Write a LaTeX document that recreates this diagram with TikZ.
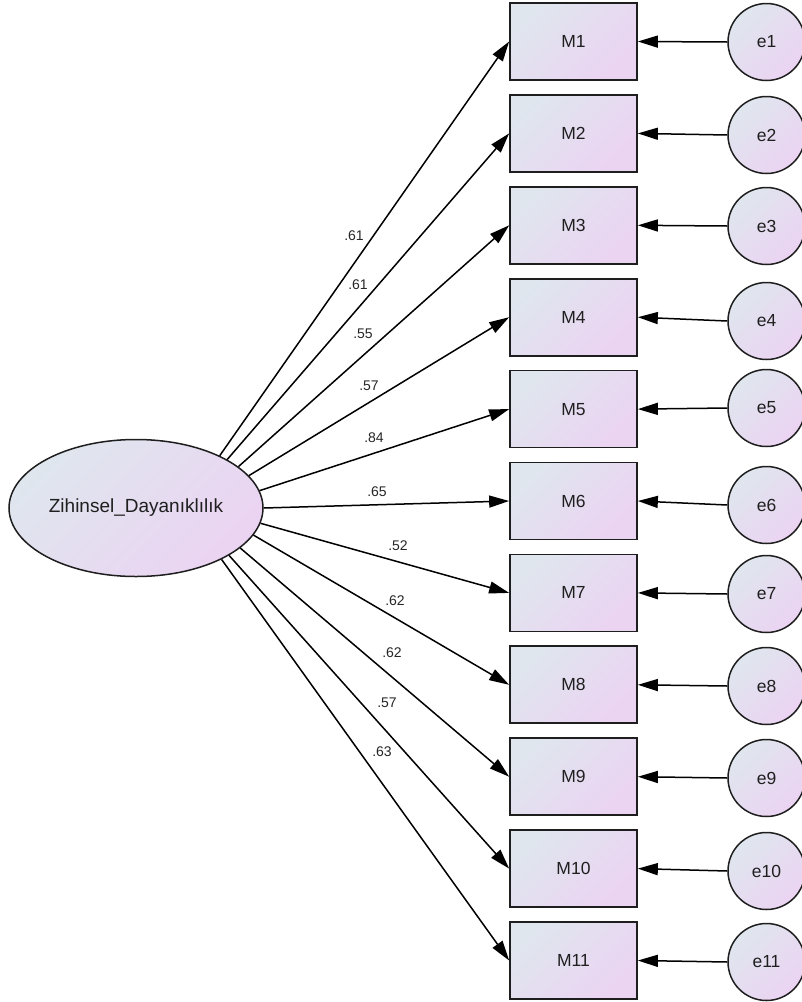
\documentclass[tikz,border=0pt]{standalone}
\usepackage{fontspec}
\setmainfont{Liberation Sans}
\usetikzlibrary{shapes.geometric,arrows.meta}
\definecolor{shA}{HTML}{DFE6EE}
\definecolor{shB}{HTML}{EBD3F2}
\definecolor{edge}{HTML}{1E1E1E}
\tikzset{
  x=1pt,y=-1pt,
  fillgrad/.style={left color=shA,right color=shB,shading angle=45},
  obs/.style={draw=edge,line width=1.7pt,fillgrad,minimum width=127pt,minimum height=77pt,inner sep=0pt,font=\fontsize{17.5}{20}\selectfont,text=black!88},
  err/.style={circle,draw=edge,line width=1.5pt,fillgrad,minimum size=77pt,inner sep=0pt,font=\fontsize{17.5}{20}\selectfont,text=black!88},
  lat/.style={ellipse,draw=edge,line width=1.5pt,fillgrad,minimum width=254pt,minimum height=137pt,inner sep=0pt,font=\fontsize{19}{22}\selectfont,text=black!88},
  path/.style={draw=black,line width=1.5pt,-{Triangle[length=20pt,width=12pt]}},
  wlab/.style={font=\fontsize{14}{16}\selectfont,text=black!85,inner sep=0pt}
}
\begin{document}
\begin{tikzpicture}
\useasboundingbox (0,0) rectangle (802,1002);
\node[lat] (Z) at (136,508) {Zihinsel\_Dayanıklılık};
\foreach \i/\y/\ey/\a in {1/41.5/42/32.2,2/133.4/135/28.4,3/225.3/226/22.2,4/317.2/321/16.0,5/409.1/408/8.6,6/501/505/0.4,7/592.9/594/-7.6,8/684.8/686/-13.9,9/776.7/778/-21.0,10/868.6/871/-27.2,11/960.5/962/-31.5}{
  \node[obs] (M\i) at (573.5,\y) {M\i};
  \node[err] (e\i) at (766.5,\ey) {e\i};
  \draw[path] (e\i.west) -- (M\i.east);
  \draw[path] (Z.\a) -- (M\i.west);
}
\node[wlab] (l1) at (354,236) {.61};
\node[wlab] (l2) at (358,285) {.61};
\node[wlab] (l3) at (363,334) {.55};
\node[wlab] (l4) at (369,386) {.57};
\node[wlab] (l5) at (374,438) {.84};
\node[wlab] (l6) at (377,492) {.65};
\node[wlab] (l7) at (398,546) {.52};
\node[wlab] (l8) at (395,601) {.62};
\node[wlab] (l9) at (392,653) {.62};
\node[wlab] (l10) at (387,703) {.57};
\node[wlab] (l11) at (382,752) {.63};
\end{tikzpicture}
\end{document}
